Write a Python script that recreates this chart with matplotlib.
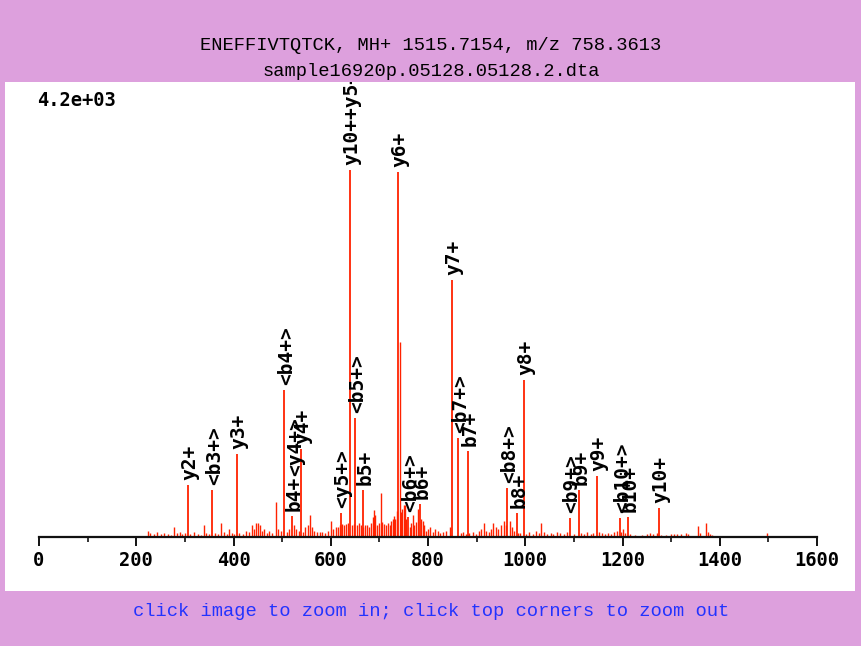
import matplotlib
matplotlib.use("Agg")
import matplotlib.pyplot as plt
from matplotlib.patches import Rectangle
from matplotlib.transforms import offset_copy

# ---------------- data ----------------
title_line1 = "ENEFFIVTQTCK, MH+ 1515.7154, m/z 758.3613"
title_line2 = "sample16920p.05128.05128.2.dta"
max_label = "4.2e+03"
footer = "click image to zoom in; click top corners to zoom out"

x_major = [0, 200, 400, 600, 800, 1000, 1200, 1400, 1600]
x_minor = [100, 300, 500, 700, 900, 1100, 1300, 1500]

# labelled fragment peaks
peak_mz = [306, 356, 407, 504, 520, 539, 621, 640, 650, 666, 738, 759, 783,
           849, 862, 882, 963, 983, 997, 1092, 1110, 1147, 1195, 1211, 1275]
peak_int = [480, 434, 766, 1357, 194, 812, 222, 3387, 1098, 434, 3369, 185, 305,
            2372, 914, 794, 452, 222, 1449, 175, 434, 563, 175, 185, 268]
peak_lab = ["y2+", "<b3+>", "y3+", "<b4+>", "b4+", "y4+", "<y5+>", "y10++y5+",
            "<b5+>", "b5+", "y6+", "<b6+>", "b6+", "y7+", "<b7+>", "b7+",
            "<b8+>", "b8+", "y8+", "<b9+>", "b9+", "y9+", "<b10+>", "b10+", "y10+"]
# labels stacked on top of another label
stack_lab = ["<y4+>"]
stack_on = ["b4+"]

# unlabelled peaks
noise_mz = [224, 229, 236, 243, 251, 258, 265, 271, 278, 283, 289, 295, 300,
            311, 318, 326, 333, 339, 344, 349, 362, 368, 374, 380, 386, 391, 396, 402,
            412, 419, 426, 432, 438, 442, 446, 450, 455, 459, 463, 468, 474, 480, 487, 492, 497,
            510, 515, 525, 529, 534, 543, 548, 553, 557, 561, 566, 572, 577, 583, 588, 594,
            600, 605, 610, 614, 618,
            624, 628, 632, 636, 644, 648, 653, 658, 662, 667, 671, 675, 679, 683, 686, 689,
            692, 696, 699, 703, 706, 709, 713, 717, 721, 724, 727, 730, 733, 736, 742, 744,
            747, 750, 752, 755, 762, 765, 769, 772, 776, 780, 786, 789, 792, 796, 800,
            805, 810, 815, 820, 825, 830, 836, 845, 868, 872, 878, 885, 892, 898, 905, 910,
            915, 920, 925, 930, 934, 939, 944, 950, 956, 960, 968, 972, 977, 986, 990, 1002,
            1008, 1015, 1022, 1028, 1032, 1038, 1045, 1052, 1058, 1065, 1072, 1080, 1086,
            1100, 1115, 1120, 1128, 1135, 1140, 1152, 1158, 1163, 1170, 1176, 1182, 1188,
            1197, 1202, 1206,
            1216, 1225, 1240, 1250, 1256, 1262, 1270, 1280, 1290, 1300, 1306, 1312, 1320,
            1330, 1335, 1355, 1360, 1371, 1375, 1380, 1384, 1497]
noise_int = [55, 37, 28, 46, 28, 37, 28, 18, 92, 37, 46, 28, 37,
             28, 46, 28, 18, 110, 37, 28, 37, 28, 129, 46, 28, 74, 37, 28,
             37, 28, 55, 46, 110, 74, 129, 129, 110, 55, 74, 37, 55, 37, 323, 74, 55,
             46, 74, 110, 74, 55, 46, 92, 110, 203, 92, 55, 46, 46, 46, 37, 55,
             148, 74, 92, 92, 110,
             120, 110, 120, 129, 110, 120, 110, 129, 110, 92, 110, 110, 92, 129, 185, 249,
             203, 110, 129, 406, 138, 120, 110, 129, 110, 148, 166, 194, 166, 240, 1800, 230,
             260, 295, 295, 166, 92, 129, 203, 110, 138, 258, 166, 148, 110, 55, 74,
             92, 46, 74, 55, 37, 46, 55, 92, 37, 46, 28, 37, 46, 28, 55, 74,
             129, 55, 46, 74, 129, 92, 74, 110, 148, 110, 148, 92, 55, 37, 37, 28,
             46, 28, 55, 37, 129, 46, 28, 37, 28, 46, 37, 28, 46,
             28, 37, 28, 46, 28, 37, 46, 37, 28, 37, 28, 46, 55,
             46, 74, 37,
             28, 18, 18, 28, 37, 28, 37, 18, 18, 28, 28, 28, 28,
             37, 28, 102, 37, 129, 46, 28, 18, 37]

# ---------------- figure ----------------
W, H = 861, 646
BG = "#DDA0DD"
RED = "#FF2200"

fig = plt.figure(figsize=(W / 100, H / 100), dpi=100, facecolor=BG)

# white panel
fig.patches.append(Rectangle((5 / W, 1 - 591 / H), 850 / W, 509 / H,
                             transform=fig.transFigure, facecolor="white",
                             edgecolor="none", zorder=-10))

ax_l, ax_r, ax_b, ax_t = 39, 817, 537, 82
ax = fig.add_axes([ax_l / W, 1 - ax_b / H, (ax_r - ax_l) / W, (ax_b - ax_t) / H])
ax.set_zorder(5)
ax.patch.set_visible(False)
ax.set_xlim(0, 1600)
ax.set_ylim(0, 4200)

ax.vlines(noise_mz, 0, noise_int, color=RED, lw=1.0)
ax.vlines(peak_mz, 0, peak_int, color=RED, lw=1.3)

for s in ["top", "left", "right"]:
    ax.spines[s].set_visible(False)
ax.spines["bottom"].set_color("#111111")
ax.spines["bottom"].set_linewidth(1.6)
ax.set_yticks([])
ax.set_xticks(x_major)
ax.set_xticks(x_minor, minor=True)
ax.tick_params(axis="x", which="major", length=6.5, width=1.4, color="#111111",
               pad=3.5)
ax.tick_params(axis="x", which="minor", length=3.5, width=1.2, color="#111111")
ax.set_xticklabels([str(v) for v in x_major], family="DejaVu Sans Mono",
                   fontsize=13.5, fontweight="bold")

lab_font = dict(family="DejaVu Sans Mono", fontsize=14, fontweight="bold",
                color="black")
trans = offset_copy(ax.transData, fig=fig, x=1.5, y=3.5, units="points")
texts = {}
for mz, it, lab in zip(peak_mz, peak_int, peak_lab):
    t = ax.text(mz, it, lab, rotation=90, ha="center", va="bottom",
                transform=trans, clip_on=True, **lab_font)
    texts[lab] = (mz, t)

fig.canvas.draw()
renderer = fig.canvas.get_renderer()
inv = ax.transData.inverted()
for lab, base in zip(stack_lab, stack_on):
    mz, t = texts[base]
    bb = t.get_window_extent(renderer)
    top_y = inv.transform((bb.x0, bb.y1))[1]
    ax.text(mz, top_y, lab, rotation=90, ha="center", va="bottom",
            transform=offset_copy(ax.transData, fig=fig, x=3.0, y=0, units="points"),
            clip_on=True, **lab_font)

# titles and texts
fig.text(431 / W, 1 - 46 / H, title_line1, ha="center", va="center",
         family="Liberation Mono", fontsize=13.5, color="#000000")
fig.text(431 / W, 1 - 71 / H, title_line2, ha="center", va="center",
         family="Liberation Mono", fontsize=13.5, color="#000000")
fig.text(37 / W, 1 - 100 / H, max_label, ha="left", va="center",
         family="DejaVu Sans Mono", fontsize=13.5, fontweight="bold", color="black")
fig.text(431 / W, 1 - 611 / H, footer, ha="center", va="center",
         family="Liberation Mono", fontsize=13.5, color="#2233FF")

fig.savefig("out.png", dpi=100, facecolor=BG)
